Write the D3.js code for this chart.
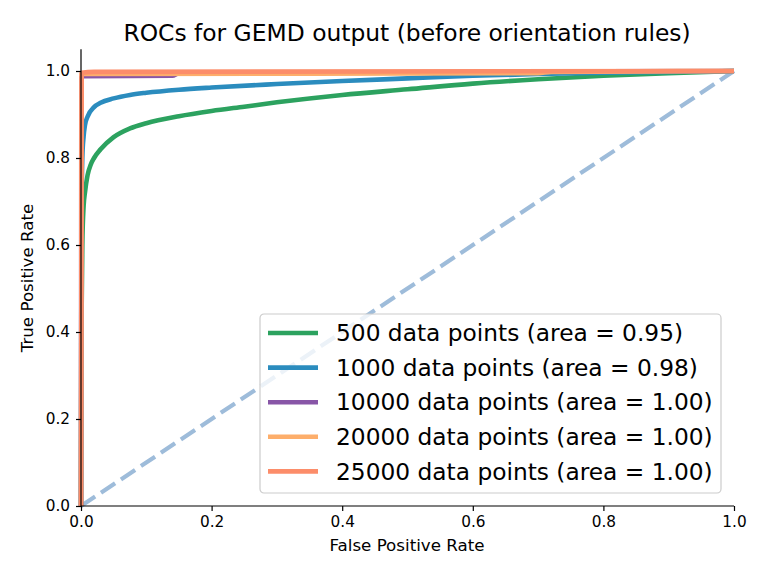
<!DOCTYPE html>
<html>
<head>
<meta charset="utf-8">
<script src="https://cdn.jsdelivr.net/npm/d3@7"></script>
<style>
  body { margin: 0; background: #fff; }
  text { font-family: "DejaVu Sans", sans-serif; fill: #000; }
</style>
</head>
<body>
<div id="chart"></div>
<script>
// ROC curve points
var fpr500 = [0, 0.0005, 0.001, 0.002, 0.004, 0.006, 0.01, 0.015, 0.02, 0.03, 0.05, 0.075, 0.1, 0.15, 0.2, 0.25, 0.3, 0.4, 0.5, 0.6, 0.7, 0.8, 0.9, 1.0]
var tpr500 = [0, 0.3, 0.45, 0.6, 0.69, 0.72, 0.76, 0.785, 0.8, 0.82, 0.848, 0.868, 0.88, 0.896, 0.908, 0.918, 0.928, 0.945, 0.958, 0.971, 0.981, 0.989, 0.995, 1.0]

var fpr1000 = [0, 0.0005, 0.001, 0.002, 0.004, 0.006, 0.01, 0.02, 0.03, 0.05, 0.075, 0.1, 0.15, 0.2, 0.3, 0.4, 0.5, 0.6, 0.7, 0.8, 0.9, 1.0]
var tpr1000 = [0, 0.5, 0.7, 0.8, 0.85, 0.875, 0.895, 0.917, 0.927, 0.937, 0.945, 0.95, 0.957, 0.962, 0.97, 0.977, 0.983, 0.989, 0.993, 0.996, 0.998, 1.0]

var fpr10000 = [0, 0.0005, 0.003, 0.14, 0.15, 1.0]
var tpr10000 = [0, 0.985, 0.988, 0.989, 0.995, 1.0]

var fpr20000 = [0, 0.001, 0.7, 0.72, 1.0]
var tpr20000 = [0, 0.993, 0.995, 0.998, 1.0]

var fpr25000 = [0, 0.001, 0.02, 1.0]
var tpr25000 = [0, 0.996, 0.998, 1.0]

var seriesNames = ["500 data points (area = 0.95)", "1000 data points (area = 0.98)",
    "10000 data points (area = 1.00)", "20000 data points (area = 1.00)", "25000 data points (area = 1.00)"]
var seriesColors = ["#2ca25f", "#2b8cbe", "#8856a7", "#fdae6b", "#fc8d6a"]

var xTicks = [0, 0.2, 0.4, 0.6, 0.8, 1.0]
var yTicks = [0, 0.2, 0.4, 0.6, 0.8, 1.0]

var width = 768, height = 576

var svg = d3.select("#chart").append("svg")
    .attr("width", width)
    .attr("height", height)

var x = d3.scaleLinear().domain([0, 1]).range([81, 734])
var y = d3.scaleLinear().domain([0, 1.05]).range([506, 49.25])

var series = [
    [fpr500, tpr500],
    [fpr1000, tpr1000],
    [fpr10000, tpr10000],
    [fpr20000, tpr20000],
    [fpr25000, tpr25000]
].map(function (s, i) {
    return {
        name: seriesNames[i],
        color: seriesColors[i],
        points: s[0].map(function (f, j) { return [f, s[1][j]] })
    }
})

var line = d3.line()
    .x(function (d) { return x(d[0]) })
    .y(function (d) { return y(d[1]) })
    .curve(d3.curveMonotoneX)

// chance diagonal
svg.append("path")
    .attr("d", d3.line().x(function (d) { return x(d[0]) }).y(function (d) { return y(d[1]) })([[0, 0], [1, 1]]))
    .attr("fill", "none")
    .attr("stroke", "#9ebcda")
    .attr("stroke-width", 4.2)
    .attr("stroke-dasharray", "17,7")

svg.append("g")
    .selectAll("path")
    .data(series)
    .enter().append("path")
    .attr("d", function (d) { return line(d.points) })
    .attr("fill", "none")
    .attr("stroke", function (d) { return d.color })
    .attr("stroke-width", 4.6)
    .attr("stroke-linejoin", "round")

// axes (left and bottom spines only)
var xAxis = svg.append("g")
    .attr("transform", "translate(0,506)")
    .call(d3.axisBottom(x).tickValues(xTicks).tickFormat(d3.format(".1f")).tickSize(5).tickPadding(5))
var yAxis = svg.append("g")
    .attr("transform", "translate(81,0)")
    .call(d3.axisLeft(y).tickValues(yTicks).tickFormat(d3.format(".1f")).tickSize(5).tickPadding(6))

svg.selectAll(".domain").attr("stroke", "#000").attr("stroke-width", 1.2)
svg.selectAll(".tick line").attr("stroke", "#000").attr("stroke-width", 1.2)
svg.selectAll(".tick text").style("font-size", "15.3px").style("font-family", "DejaVu Sans")
// domain paths without outer ticks
xAxis.select(".domain").attr("d", "M" + x(0) + ",0H" + x(1))
yAxis.select(".domain").attr("d", "M0," + y(0) + "V" + y(1.05))

svg.append("text")
    .attr("x", 407)
    .attr("y", 41)
    .attr("text-anchor", "middle")
    .style("font-size", "23.4px")
    .text("ROCs for GEMD output (before orientation rules)")

svg.append("text")
    .attr("x", 407)
    .attr("y", 551)
    .attr("text-anchor", "middle")
    .style("font-size", "16.7px")
    .text("False Positive Rate")

svg.append("text")
    .attr("transform", "translate(33,278) rotate(-90)")
    .attr("text-anchor", "middle")
    .style("font-size", "16.7px")
    .text("True Positive Rate")

// legend
var legend = svg.append("g").attr("transform", "translate(260,314)")
legend.append("rect")
    .attr("width", 461)
    .attr("height", 179)
    .attr("rx", 4)
    .attr("fill", "#fff")
    .attr("fill-opacity", 0.8)
    .attr("stroke", "#cccccc")
    .attr("stroke-width", 1.2)

var items = legend.selectAll("g.item")
    .data(series)
    .enter().append("g")
    .attr("class", "item")
    .attr("transform", function (d, i) { return "translate(0," + (19 + i * 34.6) + ")" })

items.append("line")
    .attr("x1", 8).attr("x2", 58)
    .attr("stroke", function (d) { return d.color })
    .attr("stroke-width", 4.6)

items.append("text")
    .attr("x", 76)
    .attr("dy", "0.35em")
    .style("font-size", "23.3px")
    .text(function (d) { return d.name })
</script>
</body>
</html>
